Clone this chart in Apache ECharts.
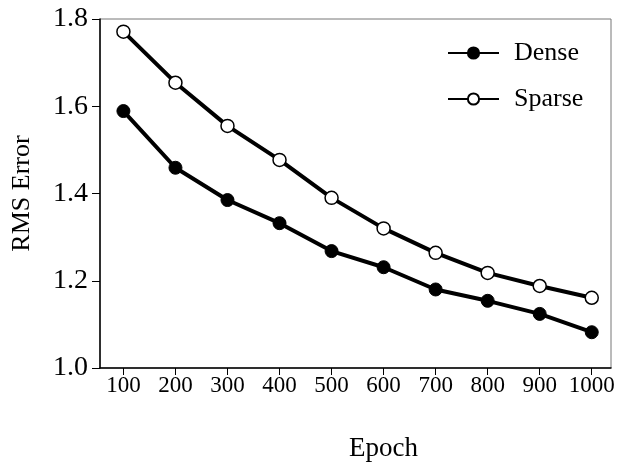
<!DOCTYPE html>
<html>
<head>
<meta charset="utf-8">
<script src="https://cdn.jsdelivr.net/npm/echarts@6/dist/echarts.min.js"></script>
<style>
  html, body { margin: 0; padding: 0; background: #fff; }
</style>
</head>
<body>
<div id="Echarts" style="width: 624px; height: 471px"></div>
<script>
// data
var epochs = [100, 200, 300, 400, 500, 600, 700, 800, 900, 1000]
var dense = [1.589, 1.459, 1.385, 1.332, 1.268, 1.231, 1.180, 1.154, 1.124, 1.082]
var sparse = [1.771, 1.654, 1.555, 1.477, 1.390, 1.320, 1.264, 1.218, 1.188, 1.161]
var yTicks = [1.0, 1.2, 1.4, 1.6, 1.8]

var font = 'Liberation Serif, Times New Roman, serif'

function pairs(xs, ys) {
  return xs.map(function (x, i) { return [x, ys[i]] })
}

var myChart = echarts.init(document.getElementById('Echarts'))

var option = {
  animation: false,
  backgroundColor: '#fff',
  grid: {
    left: 100,
    top: 19,
    right: 13,
    bottom: 103,
    outerBoundsMode: 'none',
    containLabel: false,
    show: true,
    borderColor: '#777',
    borderWidth: 1
  },
  legend: {
    orient: 'vertical',
    left: 447,
    top: 40,
    padding: 0,
    itemWidth: 51,
    itemHeight: 14,
    itemGap: 20,
    textStyle: {
      fontFamily: font,
      fontSize: 26,
      lineHeight: 26,
      color: '#000',
      padding: [0, 0, 0, 10]
    },
    data: ['Dense', 'Sparse']
  },
  xAxis: {
    type: 'value',
    min: 55,
    max: 1037,
    name: 'Epoch',
    nameLocation: 'middle',
    nameGap: 67,
    nameTextStyle: { fontFamily: font, fontSize: 27, color: '#000', padding: [0, 0, 0, 56] },
    axisLine: { lineStyle: { color: '#000', width: 1.5 } },
    axisTick: { customValues: epochs, length: 7, lineStyle: { color: '#000' } },
    axisLabel: {
      customValues: epochs,
      fontFamily: font,
      fontSize: 23,
      color: '#000',
      margin: 6,
      formatter: function (v) { return String(v) }
    },
    splitLine: { show: false }
  },
  yAxis: {
    type: 'value',
    min: 1.0,
    max: 1.8,
    name: 'RMS Error',
    nameLocation: 'middle',
    nameGap: 65,
    nameTextStyle: { fontFamily: font, fontSize: 26, color: '#000' },
    axisLine: { show: true, lineStyle: { color: '#000', width: 1.5 } },
    axisTick: { show: true, customValues: yTicks, length: 8, lineStyle: { color: '#000' } },
    axisLabel: {
      customValues: yTicks,
      fontFamily: font,
      fontSize: 28,
      color: '#000',
      margin: 12,
      formatter: function (v) { return v.toFixed(1) }
    },
    splitLine: { show: false }
  },
  series: [
    {
      name: 'Dense',
      type: 'line',
      data: pairs(epochs, dense),
      symbol: 'circle',
      symbolSize: 13,
      lineStyle: { color: '#000', width: 4 },
      itemStyle: { color: '#000', borderColor: '#000', borderWidth: 1 }
    },
    {
      name: 'Sparse',
      type: 'line',
      data: pairs(epochs, sparse),
      symbol: 'circle',
      symbolSize: 13,
      lineStyle: { color: '#000', width: 4 },
      itemStyle: { color: '#fff', borderColor: '#000', borderWidth: 1.5 }
    }
  ]
}

myChart.setOption(option)
</script>
</body>
</html>
